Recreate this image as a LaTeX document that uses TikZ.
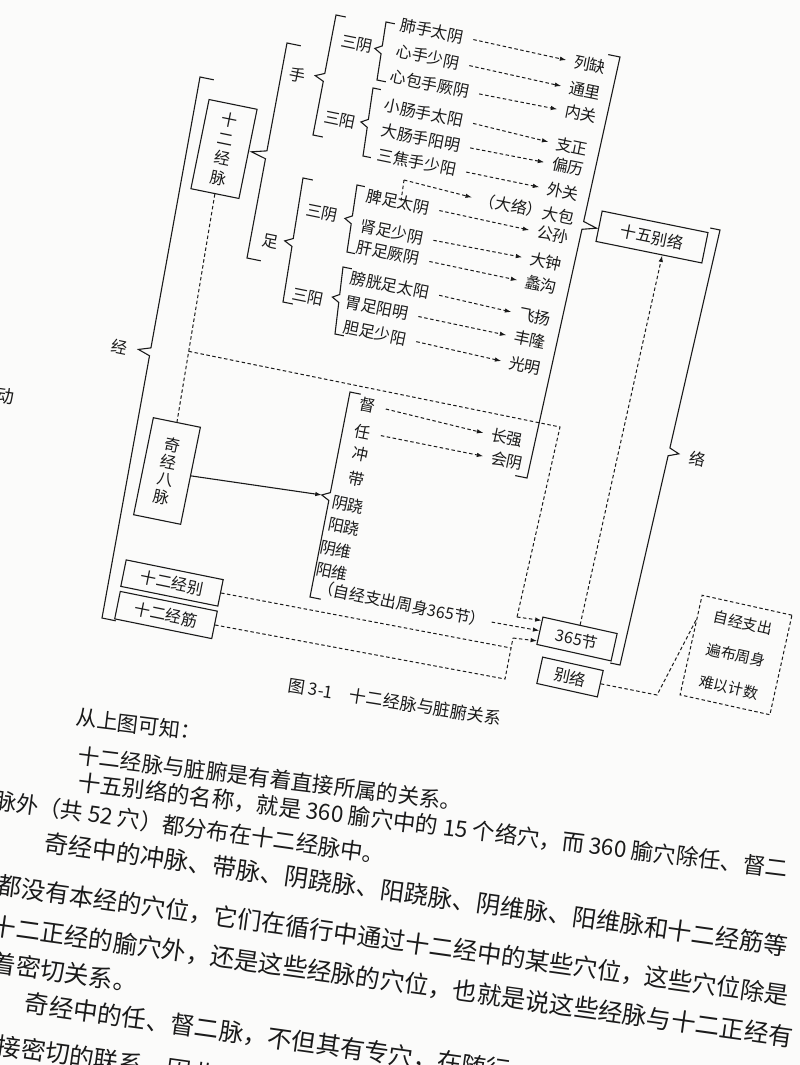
\documentclass[tikz,border=0pt]{standalone}
\usepackage{fontspec}
\setmainfont{Noto Sans CJK SC}
\usetikzlibrary{calc,arrows.meta}
\definecolor{ink}{HTML}{1A1A1A}
\definecolor{paper}{HTML}{FBFBFA}
\newcommand\fsz[2]{\fontsize{#1}{#2}\selectfont}
\tikzset{
  lbl/.style={inner sep=0pt, rotate=-11.5, font=\fsz{16}{19}, text=ink},
  bx/.style={lbl, draw=ink, line width=1.1pt, inner sep=2pt},
  dsh/.style={draw=ink, line width=1pt, dash pattern=on 3.5pt off 2.5pt},
  arr/.style={-{Latex[length=6.5pt,width=4.5pt]}},
  br/.style={draw=ink, line width=1.1pt, line join=miter},
  body/.style={inner sep=0pt, anchor=west, rotate=-8, text=ink},
}
% brace: top, bottom, position t, tick length (+ right), cusp depth (+ left), tip name
\newcommand\brc[6]{%
  \coordinate (bp) at ($(#1)!#3!(#2)$);
  \coordinate (#6) at ($(bp)+({0-(#5)*0.98},{0-(#5)*0.2})$);
  \draw[br] ($(#1)+({(#4)*0.98},{(#4)*0.2})$) -- (#1) -- ($(bp)!4pt!(#1)$) -- (#6) -- ($(bp)!4pt!(#2)$) -- (#2) -- ($(#2)+({(#4)*0.98},{(#4)*0.2})$);}
\begin{document}
\begin{tikzpicture}[x=1pt,y=-1pt]
\useasboundingbox (0,0) rectangle (800,1065);
\clip (0,0) rectangle (800,1065);
\fill[paper] (0,0) rectangle (800,1065);

% ---------- left column ----------
\node[lbl] (jing) at (120,347) {经};
\node[bx, minimum width=49pt, minimum height=91pt, align=center, font=\fsz{16}{19.5}] (sejm) at (224,149) {十\\二\\经\\脉};
\node[lbl] (shou) at (298,75) {手};
\node[lbl] (zu) at (270,242) {足};
\node[lbl] (sy1) at (357,44) {三阴};
\node[lbl] (sa1) at (340,120) {三阳};
\node[lbl] (sy2) at (322,213) {三阴};
\node[lbl] (sa2) at (308,297) {三阳};

% hand channels
\node[lbl] (h1) at (432,31) {肺手太阴};
\node[lbl] (h2) at (428,57) {心手少阴};
\node[lbl] (h3) at (430,84) {心包手厥阴};
\node[lbl] (h4) at (424,113) {小肠手太阳};
\node[lbl] (h5) at (421,138) {大肠手阳明};
\node[lbl] (h6) at (417,162) {三焦手少阳};
% foot channels
\node[lbl] (f1) at (398,202) {脾足太阴};
\node[lbl] (f2) at (392,232) {肾足少阴};
\node[lbl] (f3) at (388,253) {肝足厥阴};
\node[lbl] (f4) at (390,285) {膀胱足太阳};
\node[lbl] (f5) at (377,308) {胃足阳明};
\node[lbl] (f6) at (375,333) {胆足少阳};
% luo points
\node[lbl] (t1) at (590,65) {列缺};
\node[lbl] (t2) at (585,91) {通里};
\node[lbl] (t3) at (581,114) {内关};
\node[lbl] (t4) at (572,147) {支正};
\node[lbl] (t5) at (568,167) {偏历};
\node[lbl] (t6) at (563,192) {外关};
\node[lbl] (t7) at (527,209) {（大络）大包};
\node[lbl] (t8) at (553,235) {公孙};
\node[lbl] (t9) at (546,262) {大钟};
\node[lbl] (t10) at (541,285) {蠡沟};
\node[lbl] (t11) at (535,317) {飞扬};
\node[lbl] (t12) at (530,340) {丰隆};
\node[lbl] (t13) at (525,366) {光明};
\node[lbl] (t14) at (507,438) {长强};
\node[lbl] (t15) at (507,461) {会阴};
% extra vessels
\node[lbl] (du) at (368,405) {督};
\node[lbl] (ren) at (363,432) {任};
\node[lbl] (chong) at (361,454) {冲};
\node[lbl] (dai) at (357,479) {带};
\node[lbl] (yinq) at (348,505) {阴跷};
\node[lbl] (yangq) at (344,527) {阳跷};
\node[lbl] (yinw) at (336,550) {阴维};
\node[lbl] (yangw) at (332,572) {阳维};
\node[lbl] (zj) at (402,604) {（自经支出周身365节）};

% boxes
\node[bx, minimum width=48pt, minimum height=99pt, align=center, font=\fsz{16}{17.5}] (qj) at (167,471) {奇\\经\\八\\脉};
\node[bx, minimum width=99pt, minimum height=27pt] (sjb) at (172,583) {十二经别};
\node[bx, minimum width=99pt, minimum height=28pt] (sjj) at (166,615) {十二经筋};
\node[bx, minimum width=108pt, minimum height=31pt] (swbl) at (652,237) {十五别络};
\node[bx, minimum width=76pt, minimum height=28pt, rotate=-1] (j365) at (577,639) {365节};
\node[bx, minimum width=62pt, minimum height=27pt, rotate=-1] (bl) at (570,677) {别络};
\node[lbl, rotate=-1, dsh, minimum width=92pt, minimum height=102pt, align=center, font=\fsz{15}{33}] (zjbox) at (736,655) {自经支出\\遍布周身\\难以计数};
\node[lbl] (luo) at (698,459) {络};

% ---------- braces ----------
\brc{200,77}{102,618}{0.508}{14}{12}{tipjing}
\brc{287,43}{247,258}{0.52}{14}{15}{tipsz}
\brc{336,15}{313,135}{0.52}{10}{9}{tipshou}
\brc{386,22}{377,80}{0.48}{9}{7}{tipsy1}
\brc{373,88}{363,156}{0.52}{8}{7}{tipsa1}
\brc{303,178}{283,302}{0.52}{10}{8}{tipzu}
\brc{357,185}{347,252}{0.52}{8}{7}{tipsy2}
\brc{343,267}{335,334}{0.47}{9}{7}{tipsa2}
\brc{350,392}{310,597}{0.51}{11}{8}{tipqj}
\brc{620,57}{527,478}{0.40}{-12}{-14}{tipswbl}
\brc{720,230}{620,665}{0.51}{-10}{-10}{tipluo}

% ---------- connectors ----------
\foreach \a/\b in {h1/t1,h2/t2,h3/t3,h4/t4,h5/t5,h6/t6,f1/t8,f2/t9,f3/t10,f4/t11,f5/t12,f6/t13,du/t14,ren/t15}
  \draw[dsh,arr,shorten <=10pt,shorten >=8pt] (\a.east) -- (\b.west);
\coordinate (dbk) at (404,180);
\draw[dsh] ($(f1.center)+(3,-1)$) -- (dbk);
\draw[dsh,arr,shorten >=8pt] (dbk) -- (t7.west);

\draw[br,arr] (qj.east) -- (tipqj);

\draw[dsh] (sejm.south) -- (qj.north);
\coordinate (jn) at ($(sejm.south)!0.69!(qj.north)$);
\coordinate (c1) at (560,427);
\coordinate (c2) at (517,617);
\draw[dsh] (jn) -- (c1) -- (c2);
\draw[dsh,arr] (c2) -- ($(j365.west)!0.72!(j365.north west)$);
\draw[dsh,arr,shorten <=6pt] (zj.east) -- (j365.west);
\coordinate (v1) at (505,679);
\coordinate (v2) at (513,638);
\coordinate (v3) at (511,648);
\draw[dsh] (sjb.east) -- (v3);
\draw[dsh] (sjj.east) -- (v1) -- (v2);
\draw[dsh,arr] (v2) -- ($(j365.west)!0.72!(j365.south west)$);
\draw[dsh,arr] (j365.north) -- ($(swbl.south)!0.25!(swbl.south east)$);
\coordinate (k1) at (657,695);
\draw[dsh] (bl.east) -- (k1) -- ($(zjbox.west)!0.5!(zjbox.north west)$);

% ---------- caption and body text ----------
\node[body, rotate=-1, font=\fsz{17}{20}] (cap) at (288,685) {图 3-1\quad 十二经脉与脏腑关系};
\node[body, rotate=1, font=\fsz{21}{24}] (l1) at (76,717) {从上图可知：};
\node[body, rotate=1, font=\fsz{21.5}{24}] (l2) at (78,755) {十二经脉与脏腑是有着直接所属的关系。};
\node[body, rotate=1, font=\fsz{22.5}{24}] (l3) at (78,782) {十五别络的名称，就是 360 腧穴中的 15 个络穴，而 360 腧穴除任、督二};
\node[body, font=\fsz{22.5}{24}] (l4) at (-6,800) {脉外（共 52 穴）都分布在十二经脉中。};
\node[body, font=\fsz{24.2}{24}] (l5) at (45,842) {奇经中的冲脉、带脉、阴跷脉、阳跷脉、阴维脉、阳维脉和十二经筋等};
\node[body, font=\fsz{24.2}{24}] (l6) at (-2,885) {都没有本经的穴位，它们在循行中通过十二经中的某些穴位，这些穴位除是};
\node[body, font=\fsz{24.5}{24}] (l7) at (-8,925) {十二正经的腧穴外，还是这些经脉的穴位，也就是说这些经脉与十二正经有};
\node[body, font=\fsz{24.5}{24}] (l8) at (-8,962) {着密切关系。};
\node[body, font=\fsz{24.5}{24}] (l9) at (25,1003) {奇经中的任、督二脉，不但其有专穴，在随行};
\node[body, font=\fsz{24.5}{24}] (l10) at (-3,1045) {接密切的联系，因此古人};
\node[body, font=\fsz{18}{20}] (edge) at (-4,395) {动};
\end{tikzpicture}
\end{document}
